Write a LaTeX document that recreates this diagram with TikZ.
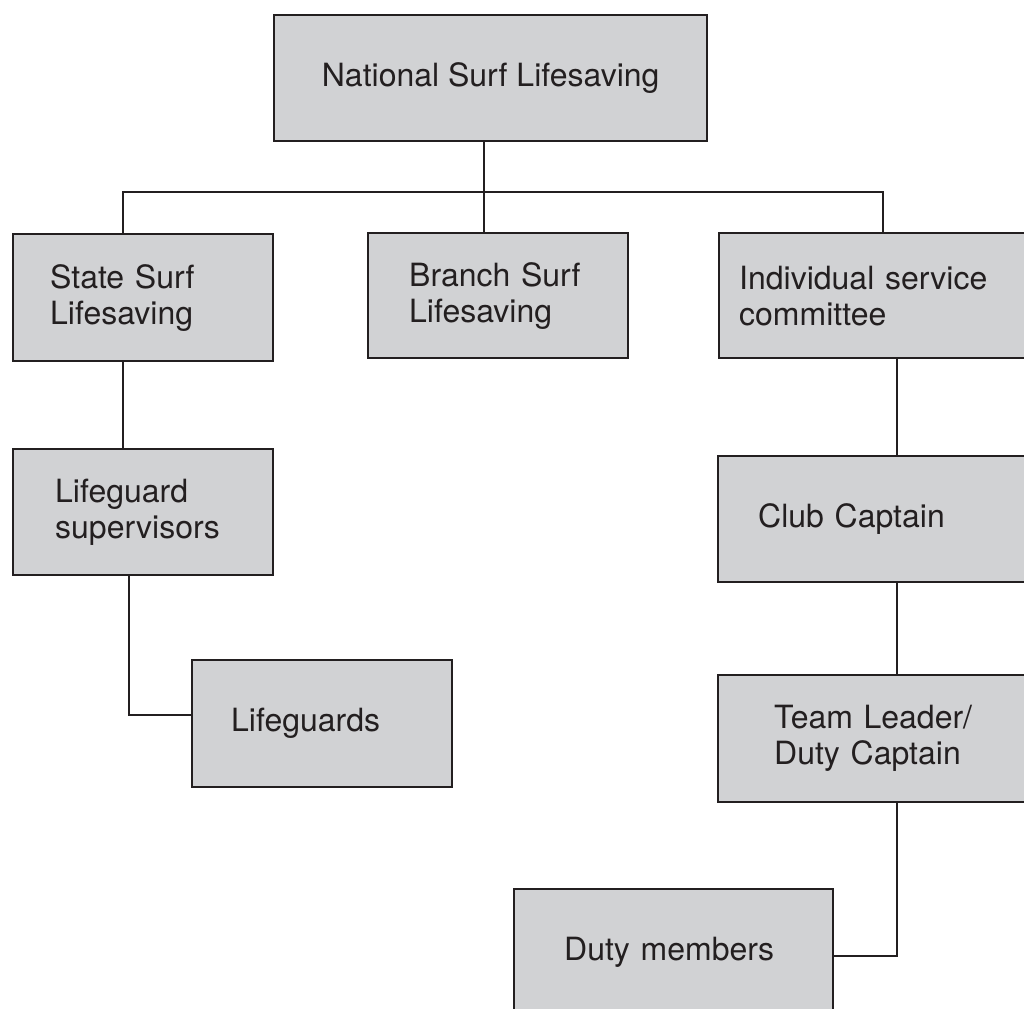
\documentclass[tikz,border=0pt]{standalone}
\usepackage{fontspec}
\setmainfont{TeX Gyre Heros}
\usetikzlibrary{calc}
\definecolor{boxfill}{RGB}{209,210,212}
\definecolor{ink}{RGB}{35,31,32}
\begin{document}
\begin{tikzpicture}[x=0.5pt,y=-0.5pt,
  orgbox/.style={draw=ink, fill=boxfill, line width=1.2pt, rectangle,
    anchor=north west, inner ysep=0pt, align=left, text=ink,
    font=\fontsize{16}{18}\selectfont},
  conn/.style={draw=ink, line width=1pt}]
\useasboundingbox (0,0) rectangle (1024,1008);
\clip (0,0) rectangle (1024,1008);
\fill[white] (0,0) rectangle (1024,1008);

% boxes
\node[orgbox, align=center, minimum width=216.5pt, minimum height=63pt] (nat) at (273,14) {National Surf Lifesaving};
\node[orgbox, minimum width=130pt, minimum height=63.5pt, inner xsep=18.5pt, text width=93pt] (state) at (12,233) {State Surf\\Lifesaving};
\node[orgbox, minimum width=130pt, minimum height=62.5pt, inner xsep=20.5pt, text width=89pt] (branch) at (367,232) {Branch Surf\\Lifesaving};
\node[orgbox, minimum width=165pt, minimum height=62.5pt, inner xsep=10pt, text width=145pt] (ind) at (718,232) {Individual service\\committee};
\node[orgbox, minimum width=130pt, minimum height=63pt, inner xsep=21pt, text width=88pt] (ls) at (12,448) {Lifeguard\\supervisors};
\node[orgbox, minimum width=130pt, minimum height=63.5pt, inner xsep=19.5pt, text width=91pt] (lg) at (191,659) {Lifeguards};
\node[orgbox, minimum width=165pt, minimum height=63pt, inner xsep=20pt, text width=125pt] (club) at (717,455) {Club Captain};
\node[orgbox, minimum width=165pt, minimum height=63.5pt, inner xsep=28pt, text width=109pt] (team) at (717,674) {Team Leader/\\Duty Captain};
\node[orgbox, minimum width=159.5pt, minimum height=63pt, inner xsep=25pt, text width=109.5pt] (duty) at (513,888) {Duty members};

% junction coordinates
\coordinate (barL) at (123,192);
\coordinate (barR) at (883,192);
\coordinate (natx) at (484,0);
\coordinate (lsx) at (129,0);
\coordinate (rx) at (897,0);

% connectors
\draw[conn] (nat.south -| natx) -- (branch.north -| natx);
\draw[conn] (state.north -| barL) -- (barL) -- (barR) -- (ind.north -| barR);
\draw[conn] (state.south -| barL) -- (ls.north -| barL);
\draw[conn] (ls.south -| lsx) |- ($(lg.west)+(0,-9)$);
\draw[conn] (ind.south -| rx) -- (club.north -| rx);
\draw[conn] (club.south -| rx) -- (team.north -| rx);
\draw[conn] (team.south -| rx) |- ($(duty.east)+(0,4)$);
\end{tikzpicture}
\end{document}
